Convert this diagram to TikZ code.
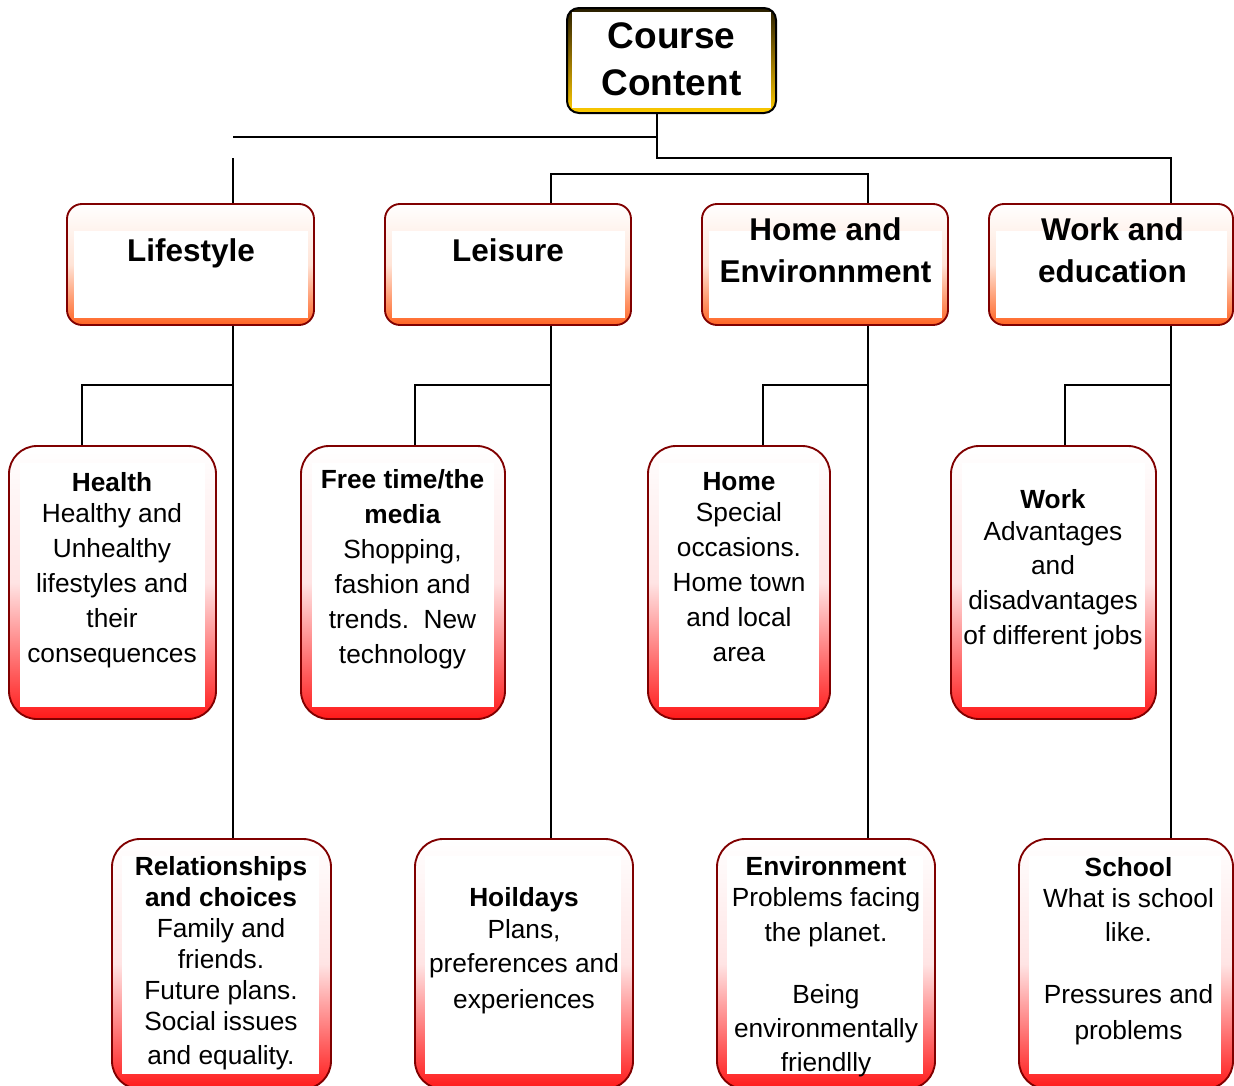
\documentclass[tikz,border=0pt]{standalone}
\usepackage{fontspec}
\setmainfont{Liberation Sans}
\definecolor{bord}{RGB}{128,0,0}
\definecolor{orgB}{RGB}{255,100,35}
\definecolor{orgM}{RGB}{255,228,215}
\definecolor{redB}{RGB}{255,25,25}
\definecolor{redM}{RGB}{255,228,228}
\definecolor{ccTop}{RGB}{40,30,0}
\definecolor{ccMid}{RGB}{150,115,0}
\definecolor{ccBot}{RGB}{255,204,0}
\begin{document}
\begin{tikzpicture}[x=0.75pt,y=-0.75pt,
 conn/.style={line width=1.1pt, draw=black},
 sz/.style 2 args={minimum width=#1*0.75pt, minimum height=#2*0.75pt},
 inset/.style n args={4}{path picture={\fill[white, sharp corners] ([shift={(#1*0.75pt,#4*0.75pt)}]path picture bounding box.south west) rectangle ([shift={(-#2*0.75pt,-#3*0.75pt)}]path picture bounding box.north east);}},
 basebox/.style={rectangle, inner sep=0pt, draw=bord, line width=1.4pt},
 lvA/.style={basebox, rounded corners=11.25pt, top color=white, bottom color=orgB, middle color=orgM, inset={7}{6}{27}{7}, sz={#1}{121}},
 lvB/.style={basebox, rounded corners=21pt, top color=white, bottom color=redB, middle color=redM, inset={11}{11}{17}{12}, sz={#1}{273}},
 lvC/.style={basebox, rounded corners=21pt, top color=white, bottom color=redB, middle color=redM, inset={10}{12}{17}{15}, sz={#1}{250}},
 ccbox/.style={rectangle, inner sep=0pt, draw=black, line width=1.5pt, rounded corners=9pt, top color=ccTop, bottom color=ccBot, middle color=ccMid, inset={5}{5}{4}{5}, sz={209}{105}},
 tb/.style={anchor=north, inner sep=0pt, align=center, font=\fontsize{19.7}{26.25}\selectfont},
 tr/.style={anchor=north, inner sep=0pt, align=center, font=\fontsize{19.7}{23.25}\selectfont},
 th/.style={anchor=north, inner sep=0pt, align=center, font=\fontsize{23.6}{31.5}\selectfont\bfseries},
 tc/.style={anchor=north, inner sep=0pt, align=center, font=\fontsize{27.75}{35.25}\selectfont\bfseries}
]
\useasboundingbox (0,0) rectangle (1234,1085);
\clip (0,0) rectangle (1234,1085);

% top box
\node[ccbox] (cc) at (671.5,60.5) {};
\node[tc] (cct) at (671.5,22.3) {Course\\Content};

% level 1
\node[lvA=247] (life) at (190.5,264.5) {};
\node[lvA=246] (leis) at (508,264.5) {};
\node[lvA=246] (home) at (825,264.5) {};
\node[lvA=244] (work) at (1111,264.5) {};
\node[th] (lifet) at (191,238.7) {Lifestyle};
\node[th] (leist) at (508,238.7) {Leisure};
\node[th] (homet) at (825.5,217.7) {Home and\\Environnment};
\node[th] (workt) at (1112.5,217.7) {Work and\\education};

% level 2
\node[lvB=207] (health) at (112.5,582.5) {};
\node[lvB=204] (free) at (403,582.5) {};
\node[lvB=182] (homeb) at (739,582.5) {};
\node[lvB=205] (workb) at (1053.5,582.5) {};
\node[tb] (healtht) at (112,472.5) {\textbf{Health}\\[-3pt] Healthy and\\ Unhealthy\\ lifestyles and\\ their\\ consequences};
\node[tb] (freet) at (402.5,469.5) {\textbf{Free time/the}\\ \textbf{media}\\ Shopping,\\ fashion and\\ trends.\ \ New\\ technology};
\node[tb] (homebt) at (739,472.5) {\textbf{Home}\\[-3pt] Special\\ occasions.\\ Home town\\ and local\\ area};
\node[tb] (workbt) at (1053,489.5) {\textbf{Work}\\[-2.25pt] Advantages\\[-0.75pt] and\\ disadvantages\\ of different jobs};

% level 3
\node[lvC=219] (rel) at (221.5,964) {};
\node[lvC=218] (hol) at (524,964) {};
\node[lvC=218] (env) at (826,964) {};
\node[lvC=214] (school) at (1126,964) {};
\node[tr] (relt) at (221,856.5) {\textbf{Relationships}\\ \textbf{and choices}\\ Family and\\ friends.\\ Future plans.\\ Social issues\\[2.25pt] and equality.};
\node[tb] (holt) at (524,887.5) {\textbf{Hoildays}\\[-2.25pt] Plans,\\[-0.75pt] preferences and\\[0.75pt] experiences};
\node[tb] (envt) at (826,856.5) {\textbf{Environment}\\[-3pt] Problems facing\\ the planet.\\[20.25pt] Being\\[-0.75pt] environmentally\\[-0.75pt] friendlly};
\node[tb] (schoolt) at (1128.5,857.5) {\textbf{School}\\[-3pt] What is school\\[-0.75pt] like.\\[20.25pt] Pressures and\\[0.75pt] problems};

% connector coordinates
\coordinate (t0) at (657,137);
\coordinate (t1) at (233,137);
\coordinate (t2) at (233,158);
\coordinate (t3) at (657,158);
\coordinate (xW) at (1171,0);
\coordinate (b1) at (551,174);
\coordinate (b2) at (868,174);
\coordinate (jL) at (233,385);  \coordinate (hL) at (82,385);
\coordinate (jLe) at (551,385); \coordinate (hLe) at (415,385);
\coordinate (jH) at (868,385);  \coordinate (hH) at (763,385);
\coordinate (jW) at (1171,385); \coordinate (hW) at (1065,385);

% connectors
\draw[conn] (cc.south -| t0) -- (t0) -- (t1);
\draw[conn] (t2) -- (life.north -| t2);
\draw[conn] (t0) -- (t3) -- (t3 -| xW) -- (work.north -| xW);
\draw[conn] (leis.north -| b1) -- (b1) -- (b2) -- (home.north -| b2);

\draw[conn] (life.south -| jL) -- (rel.north -| jL);
\draw[conn] (jL) -- (hL) -- (health.north -| hL);
\draw[conn] (leis.south -| jLe) -- (hol.north -| jLe);
\draw[conn] (jLe) -- (hLe) -- (free.north -| hLe);
\draw[conn] (home.south -| jH) -- (env.north -| jH);
\draw[conn] (jH) -- (hH) -- (homeb.north -| hH);
\draw[conn] (work.south -| jW) -- (school.north -| jW);
\draw[conn] (jW) -- (hW) -- (workb.north -| hW);
\end{tikzpicture}
\end{document}
